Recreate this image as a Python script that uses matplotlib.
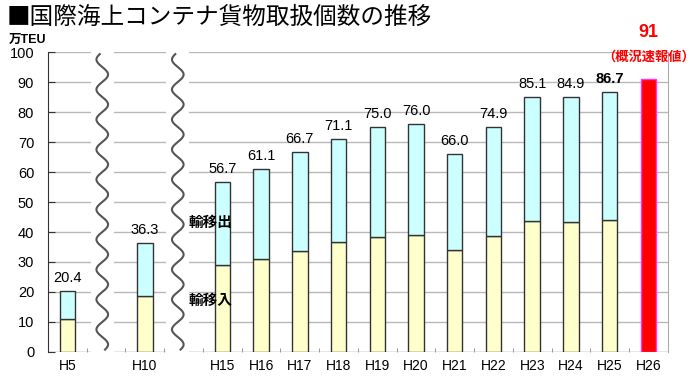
import matplotlib.pyplot as plt
import numpy as np

plt.rcParams['font.family'] = ['Liberation Sans', 'Noto Sans CJK JP', 'DejaVu Sans']

# data (万TEU)
labels = ["H5", "H10", "H15", "H16", "H17", "H18", "H19", "H20", "H21",
          "H22", "H23", "H24", "H25", "H26"]
positions = [0, 2, 4, 5, 6, 7, 8, 9, 10, 11, 12, 13, 14, 15]
totals = [20.4, 36.3, 56.7, 61.1, 66.7, 71.1, 75.0, 76.0, 66.0,
          74.9, 85.1, 84.9, 86.7, 91]
imports = [11.0, 18.6, 29.0, 30.9, 33.7, 36.6, 38.2, 39.0, 34.0,
           38.7, 43.7, 43.2, 44.0, None]
total_text = ["20.4", "36.3", "56.7", "61.1", "66.7", "71.1", "75.0", "76.0",
              "66.0", "74.9", "85.1", "84.9", "86.7", "91"]

fig = plt.figure(figsize=(7, 3.78), dpi=100)
ax = fig.add_axes([0.0686, 0.0688, 0.8854, 0.7936])

ax.set_xlim(-0.5, 15.5)
ax.set_ylim(0, 100)

# gridlines incl. bottom axis line
for v in range(0, 101, 10):
    ax.axhline(v, color="#b8b8b8" if v else "#888888", lw=1, zorder=0)

# breaks in the axis
breaks = [0.9, 2.85]
for c in breaks:
    ax.axvspan(c - 0.3, c + 0.3, color="white", zorder=1, lw=0)
    yy = np.linspace(0.8, 99.3, 400)
    ax.plot(c + 0.15 * np.sin(2 * np.pi * yy / 10), yy, color="#555555",
            lw=1.5, zorder=3, clip_on=False)

w = 0.4
for p, t, imp, txt in zip(positions, totals, imports, total_text):
    if imp is None:
        ax.bar(p, t, w, color="#ff0000", edgecolor="#ff33ff", lw=1, zorder=2)
        ax.text(p, 106.5, txt, ha="center", va="center", color="#ff0000",
                fontsize=13, fontweight="bold", clip_on=False)
        ax.text(p, 98.3, "（概況速報値）", ha="center", va="center",
                color="#ff0000", fontsize=9.5, fontweight="bold",
                clip_on=False, family=["Noto Sans CJK JP"])
        continue
    ax.bar(p, imp, w, color="#ffffcc", edgecolor="#333333", lw=1, zorder=2)
    ax.bar(p, t - imp, w, bottom=imp, color="#ccffff", edgecolor="#333333",
           lw=1, zorder=2)
    weight = "bold" if txt == "86.7" else "normal"
    ax.text(p, t + 2, txt, ha="center", va="bottom", fontsize=10.5,
            fontweight=weight, zorder=4)

ax.text(3.12, 43.5, "輸移出", ha="left", va="center", fontsize=10.5,
        fontweight="bold", zorder=4, family=["Noto Sans CJK JP"])
ax.text(3.12, 17.3, "輸移入", ha="left", va="center", fontsize=10.5,
        fontweight="bold", zorder=4, family=["Noto Sans CJK JP"])

ax.set_xticks(positions)
ax.set_xticklabels(labels, fontsize=10)
ax.set_xticks(np.arange(-0.5, 15.5, 1), minor=True)
ax.tick_params(axis="x", which="major", length=0, pad=5)
ax.tick_params(axis="x", which="minor", direction="in", length=3,
               color="#888888")
ax.set_yticks(range(0, 101, 10))
ax.tick_params(axis="y", direction="in", length=5, labelsize=10.5, pad=10,
               color="#333333")

for s in ["top", "bottom"]:
    ax.spines[s].set_visible(False)
ax.spines["left"].set_color("#333333")
ax.spines["right"].set_color("#aaaaaa")

fig.text(0.01, 0.955, "■国際海上コンテナ貨物取扱個数の推移", fontsize=17,
         va="center", ha="left", family=["Noto Sans CJK JP"])
fig.text(0.012, 0.895, "万TEU", fontsize=9, fontweight="bold", va="center",
         ha="left")

fig.savefig("out.png", dpi=100)
